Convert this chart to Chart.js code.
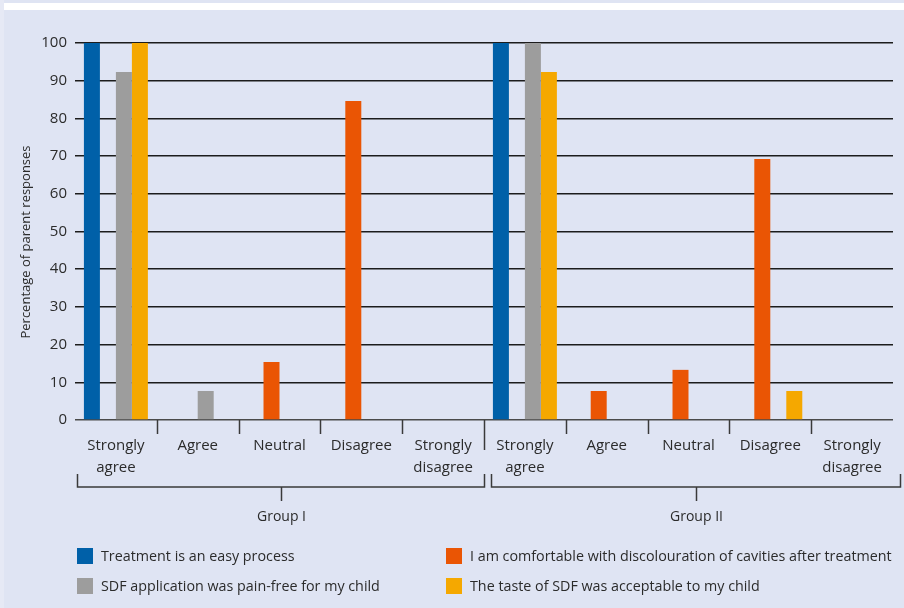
<!DOCTYPE html>
<html>
<head>
<meta charset="utf-8">
<script src="https://cdn.jsdelivr.net/npm/chart.js@4.4.1/dist/chart.umd.min.js"></script>
<style>
  html, body { margin: 0; padding: 0; background: #dfe4f3; }
  #wrap { position: relative; width: 904px; height: 608px; overflow: hidden; background: #dfe4f3; }
  #band { position: absolute; left: 4px; top: 3px; width: 900px; height: 7px; background: #ffffff; }
  #edge { position: absolute; left: 0; top: 0; width: 4px; height: 608px; background: #e6e9f5; }
  canvas { position: absolute; left: 0; top: 0; }
</style>
</head>
<body>
<div id="wrap">
  <div id="edge"></div>
  <div id="band"></div>
  <canvas id="c" width="904" height="608"></canvas>
</div>
<script>
const categories = [
  ['Strongly', 'agree'], 'Agree', 'Neutral', 'Disagree', ['Strongly', 'disagree'],
  ['Strongly', 'agree'], 'Agree', 'Neutral', 'Disagree', ['Strongly', 'disagree']
];
const groups = ['Group I', 'Group II'];
const groupSize = 5;
const seriesLabels = [
  'Treatment is an easy process',
  'I am comfortable with discolouration of cavities after treatment',
  'SDF application was pain-free for my child',
  'The taste of SDF was acceptable to my child'
];
const easyProcess    = [100, 0, 0,    0,    0, 100, 0,   0,    0,    0];
const discolouration = [0,   0, 15.4, 84.6, 0, 0,   7.7, 13.3, 69.2, 0];
const painFree       = [92.3, 7.7, 0, 0,    0, 100, 0,   0,    0,    0];
const tasteOk        = [100, 0, 0,    0,    0, 92.3, 0,  0,    7.7,  0];
const seriesColors = ['#0060a8', '#ea5504', '#9d9d9d', '#f5a800'];
const yTitle = 'Percentage of parent responses';
const yMin = 0, yMax = 100, yStep = 10;

const FONT = "'Open Sans', 'Liberation Sans', sans-serif";
const TEXT = '#2b2b2b';

const extras = {
  id: 'extras',
  afterDraw(chart) {
    const ctx = chart.ctx;
    const x = chart.scales.x;
    const a = chart.chartArea;
    const bnd = i => (x.getPixelForValue(i - 1) + x.getPixelForValue(i)) / 2;
    ctx.save();
    ctx.strokeStyle = '#3a3a3a';
    ctx.lineWidth = 1.5;
    // category boundary ticks
    for (let i = 1; i < categories.length; i++) {
      const px = Math.round(bnd(i)) + 0.5;
      const len = (i % groupSize === 0) ? 30 : 14;
      ctx.beginPath(); ctx.moveTo(px, a.bottom); ctx.lineTo(px, a.bottom + len); ctx.stroke();
    }
    // group brackets
    const yb = 487, yTop = 474, yDown = 501;
    groups.forEach((g, gi) => {
      let x0, x1;
      if (gi === 0) { x0 = a.left + 2; x1 = bnd(groupSize); }
      else { x0 = bnd(groupSize * gi) + 7; x1 = a.right + 7; }
      x0 = Math.round(x0) + 0.5; x1 = Math.round(x1) + 0.5;
      ctx.beginPath();
      ctx.moveTo(x0, yTop); ctx.lineTo(x0, yb); ctx.lineTo(x1, yb); ctx.lineTo(x1, yTop);
      ctx.stroke();
      const cx = Math.round((x0 + x1) / 2) + 0.5;
      ctx.beginPath(); ctx.moveTo(cx, yb); ctx.lineTo(cx, yDown); ctx.stroke();
      ctx.fillStyle = TEXT;
      ctx.font = '14px ' + FONT;
      ctx.textAlign = 'center';
      ctx.textBaseline = 'middle';
      ctx.fillText(g, cx, 517);
    });
    // y title
    ctx.save();
    ctx.translate(26, 242);
    ctx.rotate(-Math.PI / 2);
    ctx.fillStyle = TEXT;
    ctx.font = '13px ' + FONT;
    ctx.textAlign = 'center';
    ctx.textBaseline = 'middle';
    ctx.fillText(yTitle, 0, 0);
    ctx.restore();
    // legend (2 columns)
    const cols = [77, 446];
    const rows = [556, 586];
    chart.data.datasets.forEach((ds, i) => {
      const cx = cols[i % 2], cy = rows[Math.floor(i / 2)];
      ctx.fillStyle = ds.backgroundColor;
      ctx.fillRect(cx, cy - 8, 16, 16);
      ctx.fillStyle = TEXT;
      ctx.font = '14.3px ' + FONT;
      ctx.textAlign = 'left';
      ctx.textBaseline = 'middle';
      ctx.fillText(ds.label, cx + 24, cy + 1);
    });
    ctx.restore();
  }
};

const seriesData = [easyProcess, discolouration, painFree, tasteOk];

new Chart(document.getElementById('c'), {
  type: 'bar',
  data: {
    labels: categories,
    datasets: seriesData.map((d, i) => ({
      label: seriesLabels[i],
      data: d,
      backgroundColor: seriesColors[i],
      borderWidth: 0,
      categoryPercentage: 0.782,
      barPercentage: 1.0
    }))
  },
  options: {
    responsive: false,
    devicePixelRatio: 1,
    animation: false,
    layout: { padding: { left: 0, top: 43, right: 11, bottom: 0 } },
    plugins: { legend: { display: false }, tooltip: { enabled: false }, title: { display: false } },
    scales: {
      x: {
        grid: { display: false },
        border: { display: false },
        ticks: {
          color: TEXT,
          font: { family: FONT, size: 15, lineHeight: 1.5 },
          padding: 6,
          maxRotation: 0,
          autoSkip: false
        },
        afterFit(s) { s.height = 608 - 420; }
      },
      y: {
        min: yMin, max: yMax,
        grid: {
          drawTicks: false,
          color: c => (c.tick && c.tick.value === 0) ? '#4a4a4a' : '#1c1c1c',
          lineWidth: 1.6
        },
        border: { display: false },
        ticks: {
          stepSize: yStep,
          color: TEXT,
          font: { family: FONT, size: 15 },
          padding: 8
        },
        afterFit(s) { s.width = 75; }
      }
    }
  },
  plugins: [extras]
});
</script>
</body>
</html>
